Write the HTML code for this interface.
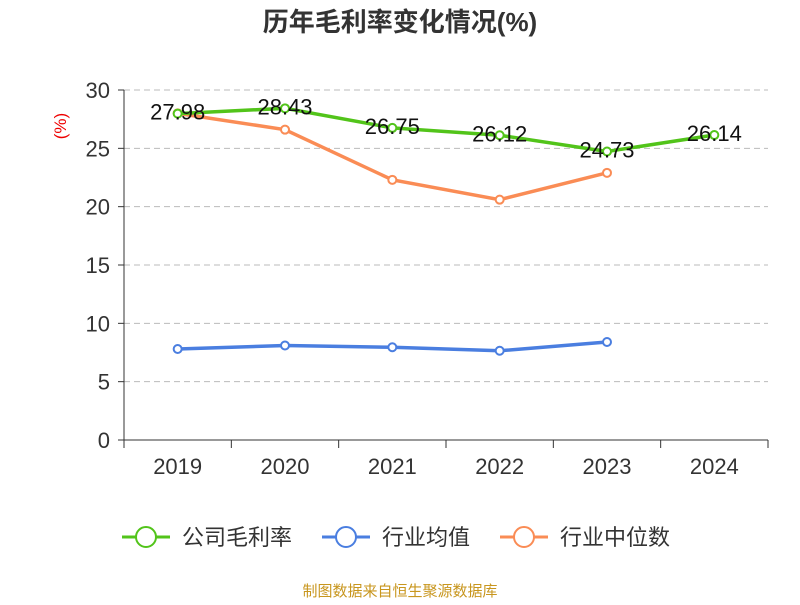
<!DOCTYPE html>
<html><head><meta charset="utf-8"><style>
body{margin:0;background:#fff;font-family:"Liberation Sans","Noto Sans CJK SC",sans-serif}
svg text{font-family:"Liberation Sans","Noto Sans CJK SC",sans-serif}
</style></head><body>
<svg width="800" height="600">
<text x="400" y="31" text-anchor="middle" font-size="26" font-weight="bold" fill="#333">历年毛利率变化情况(%)</text>
<text x="66" y="126" font-size="17" fill="#e00" transform="rotate(-90 66 126)" text-anchor="middle">(%)</text>
<g id="grid"></g><g id="axes"></g><g id="series"></g>
<g>
<g><line x1="122" y1="537" x2="170" y2="537" stroke="#52c41a" stroke-width="3"/><circle cx="146" cy="537" r="10" fill="#fff" stroke="#52c41a" stroke-width="2"/><text x="182" y="545" font-size="22" fill="#333">公司毛利率</text></g>
<g><line x1="322" y1="537" x2="370" y2="537" stroke="#4a7ee0" stroke-width="3"/><circle cx="346" cy="537" r="10" fill="#fff" stroke="#4a7ee0" stroke-width="2"/><text x="382" y="545" font-size="22" fill="#333">行业均值</text></g>
<g><line x1="500" y1="537" x2="548" y2="537" stroke="#fa8c55" stroke-width="3"/><circle cx="524" cy="537" r="10" fill="#fff" stroke="#fa8c55" stroke-width="2"/><text x="560" y="545" font-size="22" fill="#333">行业中位数</text></g>
</g>
<text x="400" y="596" text-anchor="middle" font-size="15" fill="#c8961e">制图数据来自恒生聚源数据库</text>
</svg>
<script>
const categories=["2019","2020","2021","2022","2023","2024"];
const company=[27.98,28.43,26.75,26.12,24.73,26.14];
const industryAvg=[7.8,8.1,7.95,7.65,8.4];
const industryMedian=[28.0,26.6,22.3,20.6,22.9];
const yTicks=[0,5,10,15,20,25,30];
const NS="http://www.w3.org/2000/svg";
const x0=124,x1=768,yb=440,yt=90;
const bw=(x1-x0)/categories.length;
const X=i=>x0+bw*(i+0.5);
const Y=v=>yb-(v/30)*(yb-yt);
function mk(t,a,p){const e=document.createElementNS(NS,t);for(const k in a)e.setAttribute(k,a[k]);p.appendChild(e);return e;}
const grid=document.getElementById('grid'),axes=document.getElementById('axes'),ser=document.getElementById('series');
yTicks.forEach(v=>{
 if(v>0){const l=mk('line',{x1:x0,x2:x1,y1:Y(v),y2:Y(v),stroke:'#bbb','stroke-dasharray':'6,4'},grid);
 
 }
 mk('line',{x1:x0-6,x2:x0,y1:Y(v),y2:Y(v),stroke:'#333'},axes);
 const t=mk('text',{x:x0-14,y:Y(v)+8,'text-anchor':'end','font-size':22,fill:'#333'},axes);t.textContent=v;
 
 
});
mk('line',{x1:x0,x2:x0,y1:yt,y2:yb,stroke:'#333'},axes);
mk('line',{x1:x0,x2:x1,y1:yb,y2:yb,stroke:'#333'},axes);
for(let i=0;i<=categories.length;i++)mk('line',{x1:x0+bw*i,x2:x0+bw*i,y1:yb,y2:yb+8,stroke:'#333'},axes);
categories.forEach((c,i)=>{const t=mk('text',{x:X(i),y:yb+34,'text-anchor':'middle','font-size':22,fill:'#333'},axes);t.textContent=c;
 
 });
function series(d,col,name,labels){
 const g=mk('g',{},ser);
 
 
 mk('polyline',{points:d.map((v,i)=>X(i)+','+Y(v)).join(' '),fill:'none',stroke:col,'stroke-width':3.5},g);
 d.forEach((v,i)=>{const c=mk('circle',{cx:X(i),cy:Y(v),r:4,fill:'#fff',stroke:col,'stroke-width':2},g);
  
  
  if(labels){const t=mk('text',{x:X(i),y:Y(v)+6,'text-anchor':'middle','font-size':22,fill:'#111'},g);t.textContent=v.toFixed(2);
  
  }});
}
series(industryAvg,'#4a7ee0','industry-avg-line',false);
series(industryMedian,'#fa8c55','industry-median-line',false);
series(company,'#52c41a','company-line',true);
</script>
</body></html>
